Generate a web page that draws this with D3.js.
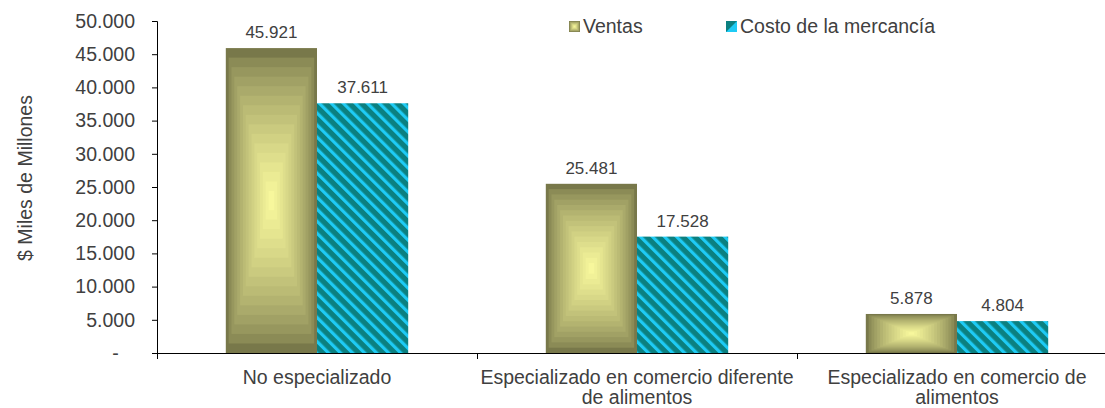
<!DOCTYPE html>
<html>
<head>
<meta charset="utf-8">
<script src="https://cdn.jsdelivr.net/npm/d3@7"></script>
<style>
  body { margin: 0; background: #fff; }
  svg { display: block; font-family: "Liberation Sans", Arial, sans-serif; }
</style>
</head>
<body>
<svg id="chart" width="1105" height="408"></svg>
<script>
var categories = [
  ["No especializado"],
  ["Especializado en comercio diferente", "de alimentos"],
  ["Especializado en comercio de", "alimentos"]
];
var series = ["Ventas", "Costo de la mercancía"];
var ventas = [45921, 25481, 5878];
var costo = [37611, 17528, 4804];
var yTicks = [0, 5000, 10000, 15000, 20000, 25000, 30000, 35000, 40000, 45000, 50000];

var svg = d3.select("#chart");
var textColor = "#404040";
var fmt = d3.formatLocale({decimal: ",", thousands: ".", grouping: [3], currency: ["$", ""]}).format(",.0f");

var y = d3.scaleLinear().domain([0, 50000]).range([353, 21]);
var x0 = d3.scaleBand().domain(d3.range(categories.length)).range([157, 1117])
  .paddingInner(0.43).paddingOuter(0.215);
var x1 = d3.scaleBand().domain(series).range([0, x0.bandwidth()]);

var defs = svg.append("defs");
var stripes = defs.append("pattern").attr("id", "stripes")
  .attr("patternUnits", "userSpaceOnUse")
  .attr("width", 8.5).attr("height", 8.5)
  .attr("patternTransform", "rotate(-45)");
stripes.append("rect").attr("width", 8.5).attr("height", 8.5).attr("fill", "#0b8080");
stripes.append("rect").attr("width", 3.2).attr("height", 8.5).attr("fill", "#1ecbf5");

var edgeCol = "#78784a", centerCol = "#f7f79c";
var steps = 16;
var colAt = d3.interpolateRgb(edgeCol, centerCol);

// box gradient drawn as nested rects
function boxGradient(g, x, yTop, w, h) {
  d3.range(steps).forEach(function(i) {
    var f = i / (2 * steps);
    var t = Math.pow(i / (steps - 1), 0.7);
    g.append("rect")
      .attr("x", x + f * w).attr("y", yTop + f * h)
      .attr("width", w * (1 - 2 * f)).attr("height", h * (1 - 2 * f))
      .attr("fill", colAt(t));
  });
}

// y axis
var yAxis = svg.append("g").attr("transform", "translate(157,0)")
  .call(d3.axisLeft(y).tickValues(yTicks).tickSize(5).tickPadding(17)
    .tickFormat(function(d) { return d === 0 ? "-\u00a0\u00a0\u00a0" : fmt(d); }));
yAxis.select(".domain").attr("stroke", "#000");
yAxis.selectAll(".tick line").attr("stroke", "#000");
yAxis.selectAll(".tick text").attr("fill", textColor).style("font-size", "19.5px")
  .style("font-family", "Liberation Sans, Arial, sans-serif");

svg.append("text")
  .attr("transform", "translate(32,178) rotate(-90)")
  .attr("text-anchor", "middle")
  .attr("fill", textColor).style("font-size", "19.5px")
  .text("$ Miles de Millones");

// bars
var groups = svg.selectAll(".cat").data(categories).enter().append("g")
  .attr("class", "cat")
  .attr("transform", function(d, i) { return "translate(" + x0(i) + ",0)"; });

groups.each(function(d, i) {
  var g = d3.select(this);
  var vx = x1("Ventas"), bw = x1.bandwidth();
  boxGradient(g, vx, y(ventas[i]), bw, y(0) - y(ventas[i]));
  g.append("rect")
    .attr("x", x1("Costo de la mercancía")).attr("y", y(costo[i]))
    .attr("width", bw).attr("height", y(0) - y(costo[i]))
    .attr("fill", "url(#stripes)");
  [ventas[i], costo[i]].forEach(function(v, j) {
    g.append("text")
      .attr("x", x1(series[j]) + bw / 2).attr("y", y(v) - 10)
      .attr("text-anchor", "middle").attr("fill", textColor)
      .style("font-size", "17px")
      .text(fmt(v));
  });
});

// x axis
var xAxisG = svg.append("g");
xAxisG.append("line").attr("x1", 157).attr("x2", 1105).attr("y1", 353.5).attr("y2", 353.5)
  .attr("stroke", "#000");
xAxisG.selectAll(".xt").data(d3.range(categories.length)).enter().append("line")
  .attr("x1", function(i) { return Math.round(x0(i) - x0.step() * x0.paddingOuter()) + 0.5; })
  .attr("x2", function(i) { return Math.round(x0(i) - x0.step() * x0.paddingOuter()) + 0.5; })
  .attr("y1", 353).attr("y2", 359).attr("stroke", "#000");

svg.selectAll(".xl").data(categories).enter().append("text")
  .attr("text-anchor", "middle").attr("fill", textColor).style("font-size", "19.5px")
  .attr("transform", function(d, i) { return "translate(" + (x0(i) + x0.bandwidth() / 2) + ",384)"; })
  .each(function(lines) {
    var t = d3.select(this);
    lines.forEach(function(l, k) {
      t.append("tspan").attr("x", 0).attr("y", k * 20).text(l);
    });
  });

// legend
var legX = [569, 726];
var leg = svg.selectAll(".leg").data(series).enter().append("g")
  .attr("transform", function(d, i) { return "translate(" + legX[i] + ",21)"; });
leg.each(function(d, i) {
  var g = d3.select(this);
  if (i === 0) {
    boxGradient(g, 0, 0, 11, 11);
  } else {
    g.append("rect").attr("width", 11).attr("height", 11).attr("fill", "#1ecbf5");
    g.append("path").attr("d", "M0,0H11L0,11Z").attr("fill", "#0b8080");
  }
  g.append("text").attr("x", 14).attr("y", 12).attr("fill", textColor)
    .style("font-size", "19.5px").text(d);
});
</script>
</body>
</html>
